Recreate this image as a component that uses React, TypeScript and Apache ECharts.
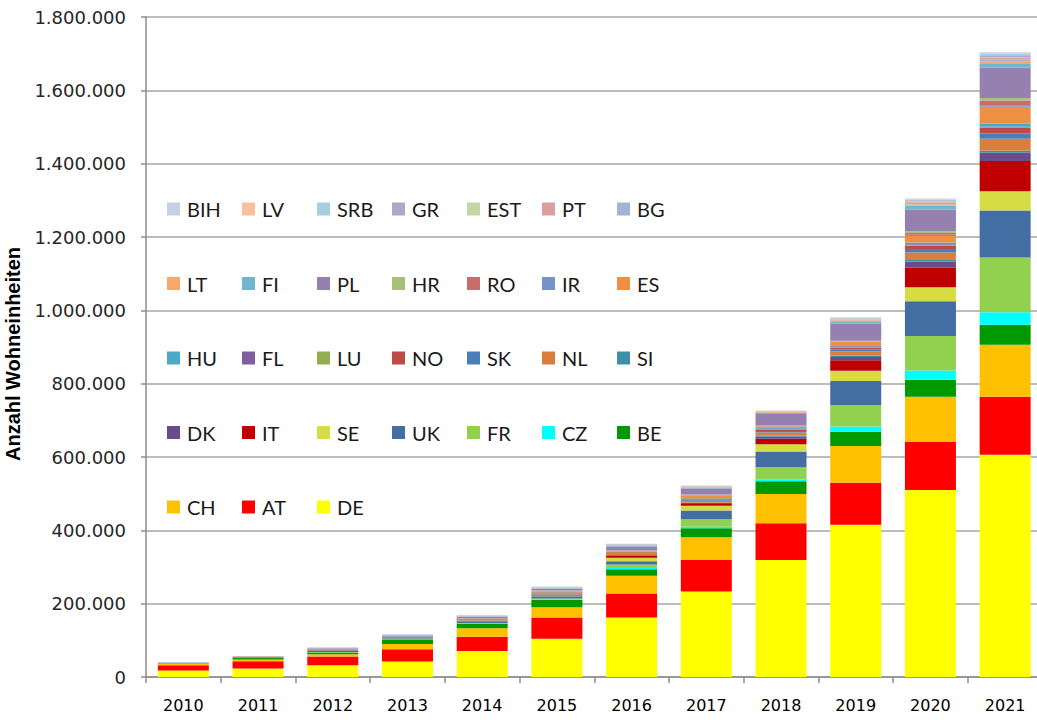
import React, { useEffect, useRef } from "react";
import * as echarts from "echarts";

const years = ["2010", "2011", "2012", "2013", "2014", "2015", "2016", "2017", "2018", "2019", "2020", "2021"];

// values in thousand dwelling units (Wohneinheiten), stacked bottom -> top
const DE = [18, 23, 32, 42, 71, 104, 162, 233, 319, 415, 510, 606];
const AT = [14, 20, 24, 34, 39, 58, 66, 86, 100, 115, 131, 158];
const CH = [4.5, 4.5, 6, 14, 23, 28, 48, 62, 80, 100, 123, 142];
const BE = [1, 6, 5, 11, 12, 20, 18, 25, 35, 39, 47, 55];
const CZ = [0, 0, 0.3, 0.5, 0.5, 1, 3, 4, 5, 14, 25, 34];
const FR = [0.1, 0.2, 1, 1, 1.5, 3, 10, 20, 33, 58, 94, 149];
const UK = [1, 1, 3, 3, 3, 6, 9, 24, 43, 66, 95, 128];
const SE = [0.1, 0.1, 1, 1, 1.5, 2, 9, 13, 20, 28, 38, 53];
const IT = [0.1, 0.1, 0.5, 1, 1, 1.5, 5, 5, 15, 29, 53, 82];
const DK = [0.1, 0.1, 0.5, 0.5, 1, 1.5, 2, 3, 6, 9, 17, 23];
const SI = [0, 0, 0.2, 0.2, 0.3, 0.5, 1, 1, 2, 3, 4, 5];
const NL = [0.1, 0.2, 1, 1, 1.5, 2, 3, 5, 9, 12, 21, 33];
const SK = [0.1, 0.1, 1, 1, 1, 2, 2, 3, 4, 5, 9, 14];
const NO = [0, 0.1, 0.5, 0.5, 1, 1.5, 2, 3, 4, 5, 9, 15];
const LU = [0, 0, 0.2, 0.3, 0.5, 0.5, 1, 1, 1, 2, 2, 2];
const FL = [0, 0, 0.2, 0.2, 0.3, 0.5, 0.5, 1, 1, 2, 2, 2];
const HU = [0, 0, 0.2, 0.3, 0.5, 1, 1, 2, 2, 3, 5, 8];
const ES = [0, 0.1, 0.5, 0.5, 1, 1.5, 2, 4, 4, 9, 18, 46];
const IR = [0, 0, 0.2, 0.3, 0.5, 0.5, 0.5, 1, 1, 1, 3, 3];
const RO = [0, 0, 0.2, 0.3, 0.5, 0.5, 0.5, 1, 1, 1, 5, 14];
const HR = [0, 0, 0.2, 0.3, 0.5, 0.5, 0.5, 1, 1, 1, 5, 7];
const PL = [0.1, 0.2, 1, 1, 3, 5, 10, 16, 31, 47, 59, 83];
const FI = [0.1, 0.1, 0.5, 0.5, 1, 1, 2, 2, 3, 6, 10, 10];
const LT = [0, 0, 0.2, 0.3, 0.5, 1, 1, 1.5, 2, 3, 4, 6];
const BG = [0.1, 0.1, 0.2, 0.2, 0.5, 0.5, 1, 1, 1, 2, 4, 7];
const PT = [0, 0, 0.2, 0.2, 0.3, 0.5, 0.5, 1, 1, 1, 2, 3];
const EST = [0, 0, 0.2, 0.2, 0.3, 0.5, 0.5, 0.5, 0.5, 1, 2, 3];
const GR = [0.1, 0.1, 0.3, 0.3, 0.7, 1, 1, 1, 1, 1.5, 3, 5];
const SRB = [0, 0, 0.2, 0.2, 0.3, 0.5, 0.5, 0.5, 0.5, 1, 2, 3];
const LV = [0, 0, 0.2, 0.2, 0.3, 0.3, 0.5, 0.5, 0.5, 0.5, 1, 2];
const BIH = [0.1, 0.1, 0.3, 0.3, 0.5, 0.5, 0.5, 0.5, 0.5, 1, 2, 3];

const seriesNames = ["DE", "AT", "CH", "BE", "CZ", "FR", "UK", "SE", "IT", "DK", "SI", "NL", "SK", "NO", "LU", "FL", "HU", "ES", "IR", "RO", "HR", "PL", "FI", "LT", "BG", "PT", "EST", "GR", "SRB", "LV", "BIH"];
const seriesValues = [DE, AT, CH, BE, CZ, FR, UK, SE, IT, DK, SI, NL, SK, NO, LU, FL, HU, ES, IR, RO, HR, PL, FI, LT, BG, PT, EST, GR, SRB, LV, BIH];
const seriesColors = ["#ffff00", "#ff0000", "#ffc000", "#009900", "#00ffff", "#92d050", "#426ea4", "#d6dc44", "#c00000", "#6a4c8c", "#3d90a8", "#d97f3a", "#4a7ebb", "#be4b48", "#93ae52", "#7d5fa0", "#4aaac8", "#ef8f43", "#7593c5", "#c96c6c", "#a6c27a", "#9580b0", "#6fb7cf", "#f9a86c", "#a0b4d8", "#d9a0a0", "#c3d6a4", "#b0a6c8", "#a5cee0", "#f9c0a0", "#c5d0e6"];

const yTicks = [0, 200000, 400000, 600000, 800000, 1000000, 1200000, 1400000, 1600000, 1800000];

const fmt = (v: number) => String(Math.round(v)).replace(/\B(?=(\d{3})+(?!\d))/g, ".");

export default function App() {
  const ref = useRef<HTMLDivElement>(null);
  useEffect(() => {
    if (!ref.current) return;
    const chart = echarts.init(ref.current, undefined, { renderer: "svg" });
    const legendOrder = [...seriesNames].reverse();
    const legends = legendOrder.map((name, i) => {
      const r = Math.floor(i / 7);
      const c = i % 7;
      return {
        data: [name],
        left: 167 + 75 * c,
        top: 209 + 74.5 * r - 10,
        padding: 0,
        itemWidth: 13,
        itemHeight: 13,
        itemGap: 0,
        icon: "rect",
        textStyle: { fontFamily: "Lato", fontSize: 20, color: "#1a1a1a", padding: [0, 0, 0, 2] },
      };
    });
    chart.setOption({
      animation: false,
      backgroundColor: "#ffffff",
      grid: { left: 146, top: 17, width: 896.5, height: 660, containLabel: false, outerBoundsMode: "none" },
      legend: legends,
      xAxis: {
        type: "category",
        data: years,
        axisLine: { lineStyle: { color: "#8c8c8c", width: 1.5 } },
        axisTick: { show: true, length: 6, lineStyle: { color: "#8c8c8c", width: 1.5 } },
        axisLabel: { fontFamily: "DejaVu Sans", fontSize: 16, color: "#000", margin: 20 },
      },
      yAxis: {
        type: "value",
        min: yTicks[0],
        max: yTicks[yTicks.length - 1],
        interval: 200000,
        name: "Anzahl Wohneinheiten",
        nameLocation: "middle",
        nameGap: 114,
        nameTextStyle: { fontFamily: "Liberation Sans", fontWeight: "bold", fontSize: 20, color: "#000", padding: [0, 14, 0, 0] },
        axisLine: { show: true, lineStyle: { color: "#8c8c8c", width: 1.5 } },
        axisTick: { show: true, length: 5, lineStyle: { color: "#8c8c8c", width: 1.5 } },
        axisLabel: { fontFamily: "DejaVu Sans", fontSize: 18, color: "#262626", margin: 20, formatter: fmt },
        splitLine: { lineStyle: { color: "#a6a6a6", width: 1.5 } },
      },
      series: seriesNames.map((name, i) => ({
        name,
        type: "bar",
        stack: "total",
        barWidth: 51,
        itemStyle: { color: seriesColors[i] },
        data: seriesValues[i].map((v) => v * 1000),
      })),
    });
    return () => chart.dispose();
  }, []);
  return <div ref={ref} style={{ position: "absolute", left: 0, top: 0, width: 1037, height: 720 }} />;
}
